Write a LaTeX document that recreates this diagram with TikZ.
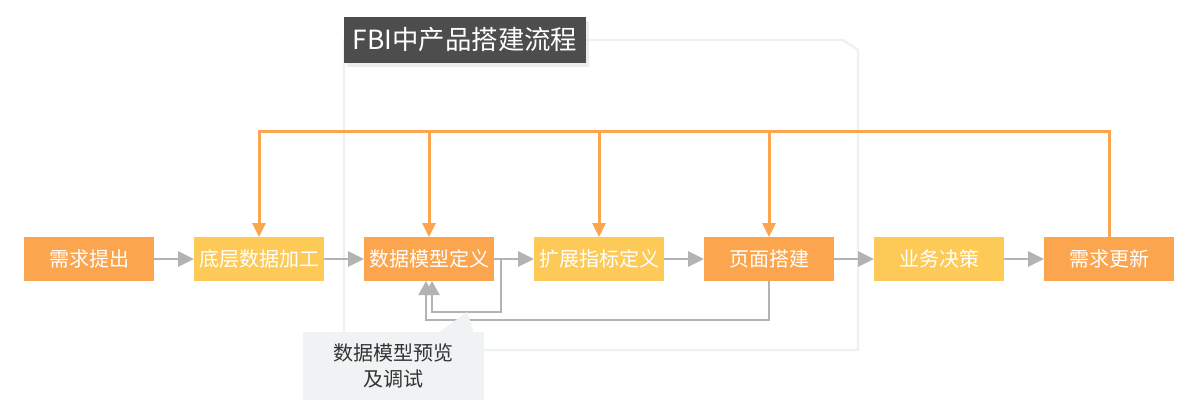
\documentclass[tikz,border=0pt]{standalone}
\usepackage{fontspec}
\setmainfont{Noto Sans CJK SC}
\usetikzlibrary{positioning, calc, arrows.meta, shadows}
\definecolor{Flow}{HTML}{FBA54F}
\definecolor{Soft}{HTML}{FDCA58}
\definecolor{Link}{HTML}{B3B3B3}
\definecolor{Title}{HTML}{4D4D4D}
\definecolor{Note}{HTML}{EFF3F4}
\definecolor{Frame}{HTML}{EEF1F1}
\tikzset{
    flowbox/.style={rectangle, fill=Flow, text=white, minimum width=65pt, minimum height=22pt, inner sep=0pt, outer sep=0pt, font=\fontsize{10pt}{12pt}\selectfont},
    softbox/.style={flowbox, fill=Soft},
    link/.style={-{Triangle[length=8pt, width=7.5pt]}, line width=1.4pt, color=Link},
    loopline/.style={-{Triangle[length=7pt, width=7.5pt]}, line width=1.2pt, color=Link},
    feedback/.style={-{Triangle[length=7pt, width=6.5pt]}, line width=1.5pt, color=Flow},
}

\begin{document}
\begin{tikzpicture}[x=0.5pt, y=-0.5pt]
    \useasboundingbox (0,0) rectangle (1201,419);

    % Rahmen mit abgeschraegter Ecke
    \draw[Frame, line width=1.2pt, fill=white] (344,40) -- (843,40) -- (858,50) -- (858,350) -- (344,350) -- cycle;

    % Titel
    \node[fill=Title, text=white, minimum width=121pt, minimum height=23pt, inner sep=0pt,
          font=\fontsize{13.2pt}{15pt}\selectfont,
          drop shadow={shadow xshift=1.5pt, shadow yshift=-2pt, opacity=0.15}] (title) at (465,40) {FBI中产品搭建流程};

    % Prozessschritte
    \node[flowbox] (req) at (89,259) {需求提出};
    \node[softbox, right=20pt of req] (base) {底层数据加工};
    \node[flowbox, right=20pt of base] (model) {数据模型定义};
    \node[softbox, right=20pt of model] (ext) {扩展指标定义};
    \node[flowbox, right=20pt of ext] (page) {页面搭建};
    \node[softbox, right=20pt of page] (biz) {业务决策};
    \node[flowbox, right=20pt of biz] (upd) {需求更新};

    % Hauptfluss
    \draw[link] (req) -- (base);
    \draw[link] (base) -- (model);
    \draw[link] (model) -- (ext);
    \draw[link] (ext) -- (page);
    \draw[link] (page) -- (biz);
    \draw[link] (biz) -- (upd);

    % Rueckkopplung von oben
    \coordinate (fbtop) at (0,131);
    \draw[feedback] (upd.north) |- (fbtop -| base.north) -- (base.north);
    \draw[feedback] (fbtop -| model.north) -- (model.north);
    \draw[feedback] (fbtop -| ext.north) -- (ext.north);
    \draw[feedback] (fbtop -| page.north) -- (page.north);

    % Schleife Vorschau / Debugging
    \coordinate (split) at (501,259);
    \coordinate (loopA) at (0,312);
    \coordinate (loopB) at (0,320);
    \draw[loopline] (split) |- ([xshift=1.5pt]model.south |- loopA) -- ([xshift=1.5pt]model.south);
    \draw[loopline] (page.south) |- ([xshift=-1.5pt]model.south |- loopB) -- ([xshift=-1.5pt]model.south);

    % Hinweis
    \fill[Note] (303,332) rectangle (484,400);
    \fill[Note] (438,333) -- (467,312) -- (474,333) -- cycle;
    \node[text=black!80, align=center, font=\fontsize{10pt}{13pt}\selectfont] (note) at (393.5,366) {数据模型预览\\及调试};
\end{tikzpicture}
\end{document}
